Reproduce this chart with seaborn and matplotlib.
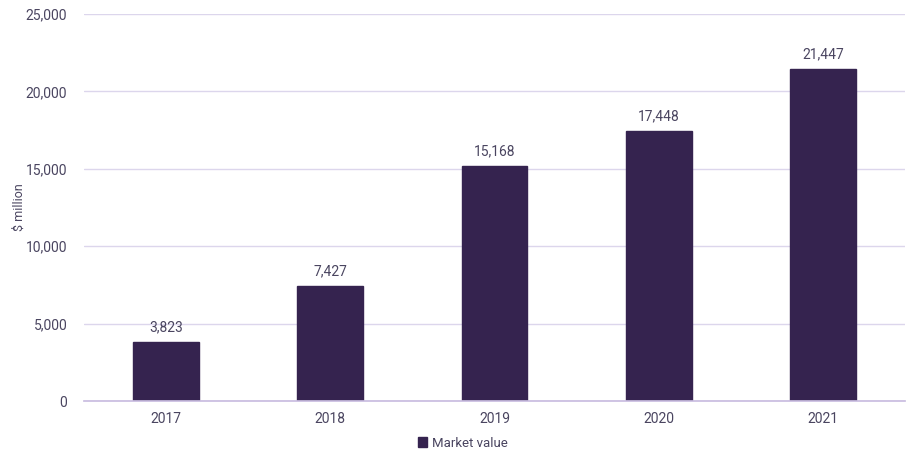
import matplotlib
matplotlib.use("Agg")
import matplotlib.pyplot as plt
import seaborn as sns
import pandas as pd
from matplotlib.patches import Patch

years = ["2017", "2018", "2019", "2020", "2021"]
values = [3823, 7427, 15168, 17448, 21447]
series_name = "Market value"

sns.set_theme(style="white")
plt.rcParams['font.family'] = ['Roboto', 'DejaVu Sans']

text_color = "#4a4560"
bar_color = "#35234f"
grid_color = "#dcd6ec"

df = pd.DataFrame({"year": years, "value": values})

fig = plt.figure(figsize=(9.2, 4.63), dpi=100)
ax = fig.add_axes([0.0913, 0.1339, 0.8924, 0.8359])
sns.barplot(data=df, x="year", y="value", color=bar_color, width=0.4, ax=ax,
            saturation=1, edgecolor=bar_color)

ax.set_ylim(0, 25000)
ax.set_yticks([0, 5000, 10000, 15000, 20000, 25000])
ax.set_yticklabels([f"{v:,}" for v in [0, 5000, 10000, 15000, 20000, 25000]])
ax.yaxis.grid(True, color=grid_color, linewidth=1)
ax.set_axisbelow(True)
for s in ["top", "right", "left"]:
    ax.spines[s].set_visible(False)
ax.spines["bottom"].set_color("#c9bde0")
ax.tick_params(axis="both", length=0, colors=text_color, labelsize=10)
ax.tick_params(axis="y", pad=12)
ax.tick_params(axis="x", pad=8)
ax.set_xlabel("")
ax.set_ylabel("$ million", color=text_color, fontsize=9)
ax.yaxis.set_label_coords(-0.071, 0.5)

for i, v in enumerate(values):
    ax.text(i, v + 500, f"{v:,}", ha="center", va="bottom", color=text_color, fontsize=10)

handles = [Patch(facecolor=bar_color, edgecolor=bar_color)]
fig.legend(handles, [series_name], loc="center", bbox_to_anchor=(0.503, 0.043),
           frameon=False, fontsize=9.5, handlelength=0.7, handleheight=0.7,
           handletextpad=0.4, labelcolor=text_color)

fig.savefig("out.png", dpi=100)
